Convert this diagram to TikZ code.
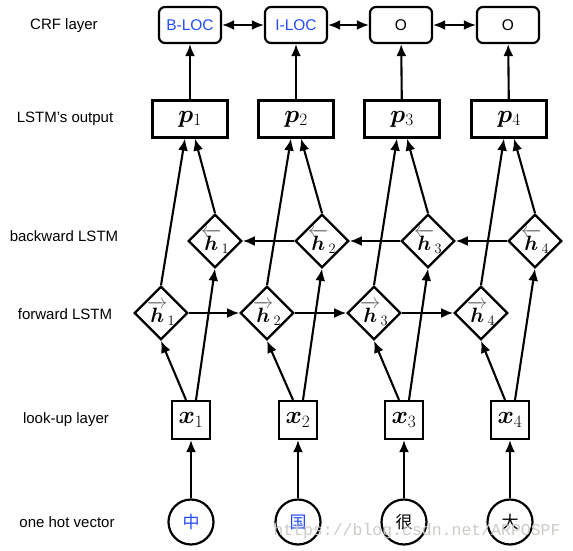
\documentclass[tikz,border=0pt]{standalone}
\usepackage[no-math]{fontspec}
\setmainfont{Liberation Sans}
\newfontfamily\cjk{Noto Sans CJK SC}
\newfontfamily\wmfont{Liberation Mono}
\usepackage{amsmath,bm}
\usetikzlibrary{shapes.geometric,arrows.meta}
\definecolor{locblue}{RGB}{35,75,250}
\definecolor{wmgray}{RGB}{205,202,198}
\definecolor{arrgray}{RGB}{110,110,110}
\tikzset{
  lbl/.style={font=\fontsize{15}{18}\selectfont},
  crf/.style={draw, rounded corners=6pt, line width=2.2pt, minimum width=62pt, minimum height=36pt, inner sep=0pt, font=\fontsize{15.5}{18}\selectfont},
  pbox/.style={draw, line width=2.2pt, minimum width=75pt, minimum height=37pt, inner sep=0pt, font=\fontsize{24}{28}\selectfont},
  hd/.style={draw, diamond, line width=2.2pt, minimum width=52pt, minimum height=52pt, inner sep=0pt, font=\fontsize{21}{24}\selectfont},
  xbox/.style={draw, line width=2.2pt, minimum size=38pt, inner sep=0pt, font=\fontsize{24}{28}\selectfont},
  word/.style={draw, circle, line width=2.2pt, minimum size=45pt, inner sep=0pt, font=\cjk\fontsize{17}{20}\selectfont},
  arr/.style={line width=2.1pt, -{Latex[length=12pt,width=10pt]}},
  darr/.style={line width=2.1pt, {Latex[length=12pt,width=10pt]}-{Latex[length=12pt,width=10pt]}},
}
\newcommand{\fh}[1]{{\color{arrgray}\overrightarrow{\color{black}\boldsymbol{h}}}_{#1}}
\newcommand{\bh}[1]{{\color{arrgray}\overleftarrow{\color{black}\boldsymbol{h}}}_{#1}}
\begin{document}
\begin{tikzpicture}[x=1pt,y=-1pt]
\useasboundingbox (0,0) rectangle (573,551);
% row labels
\node[lbl] (l1) at (64,26) {CRF layer};
\node[lbl] (l2) at (65,119) {LSTM’s output};
\node[lbl] (l3) at (64,236) {backward LSTM};
\node[lbl] (l4) at (65,314) {forward LSTM};
\node[lbl] (l5) at (66,420) {look-up layer};
\node[lbl] (l6) at (67,522) {one hot vector};
% CRF
\node[crf, text=locblue] (c1) at (190,25) {B-LOC};
\node[crf, text=locblue] (c2) at (296,25) {I-LOC};
\node[crf] (c3) at (401,25) {O};
\node[crf] (c4) at (508,25) {O};
% outputs
\node[pbox] (p1) at (190,119) {$\boldsymbol{p}_1$};
\node[pbox] (p2) at (296,119) {$\boldsymbol{p}_2$};
\node[pbox] (p3) at (402,119) {$\boldsymbol{p}_3$};
\node[pbox] (p4) at (509,119) {$\boldsymbol{p}_4$};
% backward
\node[hd] (b1) at (215,241) {$\bh{1}$};
\node[hd] (b2) at (322,241) {$\bh{2}$};
\node[hd] (b3) at (428,241) {$\bh{3}$};
\node[hd] (b4) at (535,241) {$\bh{4}$};
% forward
\node[hd] (f1) at (161,313) {$\fh{1}$};
\node[hd] (f2) at (267,313) {$\fh{2}$};
\node[hd] (f3) at (374,313) {$\fh{3}$};
\node[hd] (f4) at (481,313) {$\fh{4}$};
% look-up
\node[xbox] (x1) at (191,420) {$\boldsymbol{x}_1$};
\node[xbox] (x2) at (298,420) {$\boldsymbol{x}_2$};
\node[xbox] (x3) at (404,420) {$\boldsymbol{x}_3$};
\node[xbox] (x4) at (510,420) {$\boldsymbol{x}_4$};
% words
\node[word, text=locblue] (w1) at (191,522) {中};
\node[word, text=locblue] (w2) at (298,522) {国};
\node[word] (w3) at (404,522) {很};
\node[word] (w4) at (510,522) {大};
% connectors
\foreach \i in {1,2,3,4}{
  \draw[arr] (w\i) -- (x\i);
  \draw[arr] ([xshift=-5pt]x\i.north) -- (f\i.south);
  \draw[arr] ([xshift=5pt]x\i.north) -- (b\i.south);
  \draw[arr] (f\i.north) -- ([xshift=-5pt]p\i.south);
  \draw[arr] (b\i.north) -- ([xshift=5pt]p\i.south);
  \draw[arr] (p\i) -- (c\i);
}
\draw[arr] (f1.east) -- (f2.west);
\draw[arr] (f2.east) -- (f3.west);
\draw[arr] (f3.east) -- (f4.west);
\draw[arr] (b4.west) -- (b3.east);
\draw[arr] (b3.west) -- (b2.east);
\draw[arr] (b2.west) -- (b1.east);
\draw[darr] (c1) -- (c2);
\draw[darr] (c2) -- (c3);
\draw[darr] (c3) -- (c4);
% watermark
\node[text=wmgray, font=\wmfont\fontsize{16.5}{18}\selectfont] (wm) at (417,531) {https://blog.csdn.net/ARPOSPF};
\end{tikzpicture}
\end{document}
